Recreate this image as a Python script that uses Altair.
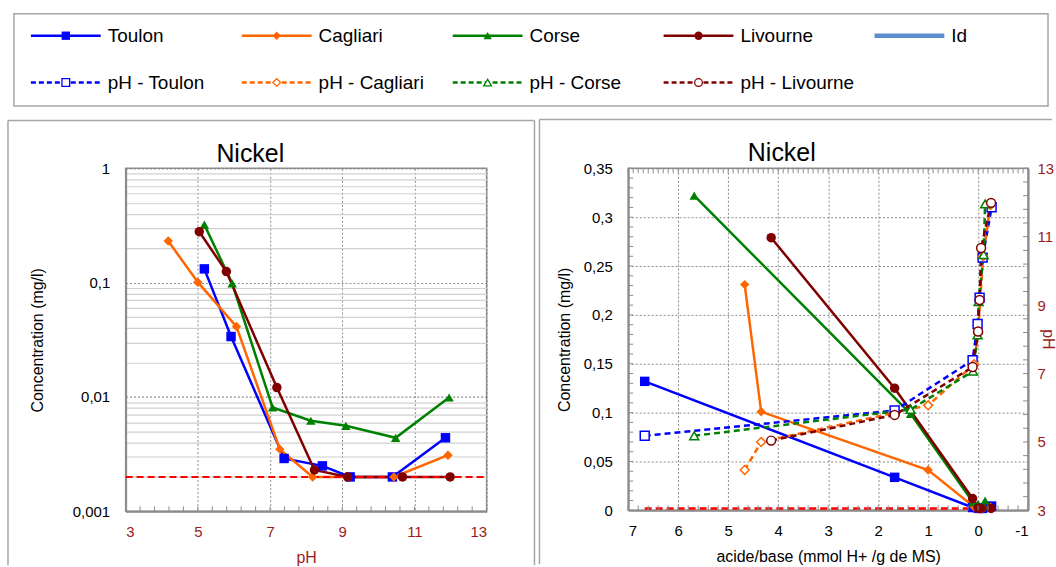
import altair as alt
import pandas as pd
import numpy as np

FONT = "Liberation Sans"
DARKRED = "#9b1c1c"
GRID = "#8c8c8c"
BOX = "#a6a6a6"

# ---------------- data ----------------
sites = ["Toulon", "Cagliari", "Corse", "Livourne"]
site_colors = ["#0000ff", "#ff6600", "#008000", "#800000"]
site_shapes = ["square", "diamond", "triangle-up", "circle"]

ph_toulon = [5.18, 5.92, 7.39, 8.45, 9.22, 10.39, 11.86]
ph_cagliari = [4.18, 5.00, 6.07, 7.27, 8.18, 10.43, 11.93]
ph_corse = [5.18, 5.95, 7.07, 8.13, 9.10, 10.48, 11.96]
ph_livourne = [5.04, 5.79, 7.19, 8.23, 9.15, 10.67, 11.99]

conc_toulon = [0.132, 0.0338, 0.0029, 0.0025, 0.0020, 0.0020, 0.0044]
conc_cagliari = [0.231, 0.101, 0.0413, 0.0035, 0.0020, 0.0020, 0.0031]
conc_corse = [0.322, 0.0987, 0.0081, 0.0062, 0.0056, 0.0044, 0.0099]
conc_livourne = [0.279, 0.125, 0.0121, 0.0023, 0.0020, 0.0020, 0.0020]

ab_toulon = [6.67, 1.67, 0.11, 0.01, -0.03, -0.09, -0.27]
ab_cagliari = [4.67, 4.34, 1.00, 0.08, 0.00, -0.10, -0.25]
ab_corse = [5.68, 1.35, 0.10, 0.01, -0.01, -0.11, -0.14]
ab_livourne = [4.14, 1.67, 0.11, 0.00, -0.03, -0.06, -0.26]

limit_value = 0.002
limit_ph = [3, 13]
limit_ab = [6.67, -0.27]

chart_title = "Nickel"
legend_row1 = ["Toulon", "Cagliari", "Corse", "Livourne", "Id"]
legend_row2 = ["pH - Toulon", "pH - Cagliari", "pH - Corse", "pH - Livourne"]
id_color = "#5b8fcc"

left_x_ticks = [3, 5, 7, 9, 11, 13]
log_ticks = [round(m * 10.0 ** e, 6) for e in (-3, -2, -1) for m in range(1, 10)] + [1]
right_x_ticks = [-1, 0, 1, 2, 3, 4, 5, 6, 7]
right_y_ticks = [0, 0.05, 0.1, 0.15, 0.2, 0.25, 0.3, 0.35]
ph_axis_ticks = [3, 5, 7, 9, 11, 13]

# ---------------- tables ----------------
rows = []
for s, ph, cc, ab in zip(sites, [ph_toulon, ph_cagliari, ph_corse, ph_livourne],
                         [conc_toulon, conc_cagliari, conc_corse, conc_livourne],
                         [ab_toulon, ab_cagliari, ab_corse, ab_livourne]):
    for i, (p, c, a) in enumerate(zip(ph, cc, ab)):
        rows.append(dict(site=s, ph=p, conc=c, ab=a, order=i))
df = pd.DataFrame(rows)

lim_left = pd.DataFrame({"ph": limit_ph, "conc": [limit_value] * 2})
lim_right = pd.DataFrame({"ab": limit_ab, "conc": [limit_value] * 2})

color = alt.Color("site:N", scale=alt.Scale(domain=sites, range=site_colors), legend=None)
shape = alt.Shape("site:N", scale=alt.Scale(domain=sites, range=site_shapes), legend=None)

W1, H1 = 362, 344
W2, H2 = 401, 343
one = pd.DataFrame({"a": [0]})
ttl = pd.DataFrame({"t": [chart_title]})

axis_common = dict(labelFont=FONT, titleFont=FONT, labelFontSize=15, titleFontSize=16,
                   titleFontWeight="normal", domainColor=GRID, domainWidth=2, ticks=False)

# ---------------- left panel ----------------
decade = "abs(log(datum.value)/LN10 - round(log(datum.value)/LN10)) < 0.001"
xl = alt.X("ph:Q", scale=alt.Scale(domain=[3, 13], nice=False, zero=False),
           axis=alt.Axis(values=left_x_ticks, title="pH", labelColor=DARKRED, titleColor=DARKRED,
                         grid=True, gridColor=GRID, gridDash=[2, 2], labelPadding=13, titlePadding=10,
                         labelExpr="'' + datum.value", **axis_common))
yl = alt.Y("conc:Q", scale=alt.Scale(type="log", domain=[0.001, 1], nice=False),
           axis=alt.Axis(values=log_ticks, title="Concentration (mg/l)", labelColor="black",
                         labelExpr=f"({decade}) ? replace('' + datum.value, '.', ',') : ''",
                         grid=True,
                         gridColor={"condition": {"test": decade, "value": "#8c8c8c"}, "value": "#d0d0d0"},
                         gridDash={"condition": {"test": decade, "value": [2, 2]}, "value": []},
                         gridWidth=1.2, labelPadding=16, titlePadding=27, **axis_common))

left_lines = alt.Chart(df).mark_line(strokeWidth=2.5).encode(x=xl, y=yl, color=color, detail="site:N", order="order:Q")
left_limit = alt.Chart(lim_left).mark_line(color="#ff0000", strokeWidth=2, strokeDash=[7, 4]).encode(x="ph:Q", y="conc:Q")
left_pts = alt.Chart(df).mark_point(filled=True, opacity=1, size=90).encode(x="ph:Q", y="conc:Q", color=color, shape=shape)
lx_minor = pd.DataFrame({"ph": np.round(np.arange(3, 13.001, 0.4), 2)})
left_ticks = alt.Chart(lx_minor).mark_rule(color=GRID, strokeWidth=1).encode(x="ph:Q", y=alt.value(H1), y2=alt.value(H1 - 5))

left_data = alt.layer(left_lines, left_limit, left_pts, left_ticks)

# decorations (frames, title)
anchor = alt.Chart(one).mark_rect(color="white").encode(
    x=alt.value(-125), x2=alt.value(-124), y=alt.value(-167), y2=alt.value(-166))
legend_box = alt.Chart(one).mark_rect(fillOpacity=0, stroke=BOX, strokeWidth=1.5).encode(
    x=alt.value(-112), x2=alt.value(925), y=alt.value(-155), y2=alt.value(-62.5))
lb_style = dict(color=BOX, strokeWidth=1.5)
left_box_l = alt.Chart(one).mark_rule(**lb_style).encode(x=alt.value(-118), y=alt.value(-48), y2=alt.value(398))
left_box_r = alt.Chart(one).mark_rule(**lb_style).encode(x=alt.value(410), y=alt.value(-48), y2=alt.value(398))
left_box_t = alt.Chart(one).mark_rule(**lb_style).encode(x=alt.value(-118), x2=alt.value(410), y=alt.value(-48))
left_title = alt.Chart(ttl).mark_text(fontSize=25, font=FONT, align="center", baseline="alphabetic",
                                      color="black").encode(x=alt.value(125), y=alt.value(-6), text="t:N")

# legend (drawn through its own scales)
step = 211.5
leg = []
for i, lab in enumerate(legend_row1):
    leg.append(dict(label=lab, col=i, row=0,
                    color=site_colors[i] if i < 4 else id_color,
                    shape=site_shapes[i] if i < 4 else "",
                    sw=2.5 if i < 4 else 4.5))
for i, lab in enumerate(legend_row2):
    leg.append(dict(label=lab, col=i, row=1, color=site_colors[i], shape=site_shapes[i], sw=2.5))
leg = pd.DataFrame(leg)
leg["xe"] = leg["col"] + 70 / step
leg["xm"] = leg["col"] + 35 / step

lxs = alt.Scale(domain=[0, 1], range=[-95, -95 + step])
lys = alt.Scale(domain=[0, 1], range=[-133, -86])
lX = lambda f: alt.X(f"{f}:Q", scale=lxs, axis=None)
lY = alt.Y("row:Q", scale=lys, axis=None)

leg_solid = alt.Chart(leg).transform_filter("datum.row == 0").mark_rule().encode(
    x=lX("col"), x2="xe:Q", y=lY, color=alt.Color("color:N", scale=None),
    strokeWidth=alt.StrokeWidth("sw:Q", scale=None))
leg_dash = alt.Chart(leg).transform_filter("datum.row == 1").mark_rule(strokeDash=[5, 3], strokeWidth=2.5).encode(
    x=lX("col"), x2="xe:Q", y=lY, color=alt.Color("color:N", scale=None))
leg_fill = alt.Chart(leg).transform_filter("datum.row == 0 && datum.shape != ''").mark_point(
    filled=True, opacity=1, size=70).encode(
    x=lX("xm"), y=lY, color=alt.Color("color:N", scale=None), shape=alt.Shape("shape:N", scale=None))
leg_open = alt.Chart(leg).transform_filter("datum.row == 1").mark_point(
    filled=False, fill="white", fillOpacity=1, opacity=1, size=60, strokeWidth=1.3).encode(
    x=lX("xm"), y=lY, color=alt.Color("color:N", scale=None), shape=alt.Shape("shape:N", scale=None))
leg_text = alt.Chart(leg).mark_text(align="left", baseline="middle", dx=77, fontSize=19, font=FONT,
                                    color="black").encode(x=lX("col"), y=lY, text="label:N")
legend_layer = alt.layer(leg_solid, leg_dash, leg_fill, leg_open, leg_text)

left = alt.layer(anchor, legend_box, left_box_l, left_box_r, left_box_t, left_title,
                 left_data, legend_layer).resolve_scale(
    x="independent", y="independent").properties(width=W1, height=H1)

# ---------------- right panel ----------------
xr = alt.X("ab:Q", scale=alt.Scale(domain=[-1, 7], reverse=True, nice=False, zero=False),
           axis=alt.Axis(values=right_x_ticks, title="acide/base (mmol H+ /g de MS)", labelColor="black",
                         titleColor="black", grid=True, gridColor=GRID, gridDash=[2, 2],
                         labelExpr="'' + datum.value", labelPadding=13, titlePadding=10, **axis_common))
yr = alt.Y("conc:Q", scale=alt.Scale(domain=[0, 0.35], nice=False),
           axis=alt.Axis(values=right_y_ticks, title="Concentration (mg/l)", labelColor="black",
                         titleColor="black", grid=True, gridColor=GRID, gridDash=[2, 2],
                         labelExpr="replace('' + datum.value, '.', ',')", labelPadding=16, titlePadding=11,
                         **axis_common))
yph = alt.Y("ph:Q", scale=alt.Scale(domain=[3, 13], nice=False, zero=False),
            axis=alt.Axis(orient="right", values=ph_axis_ticks, title="pH", labelColor=DARKRED,
                          titleColor=DARKRED, grid=False, labelExpr="'' + datum.value",
                          labelPadding=9, titleX=19, titleY=171, titleAngle=90, titleAlign="center",
                          titleBaseline="middle", **axis_common))

r_lines = alt.Chart(df).mark_line(strokeWidth=2.5).encode(x=xr, y=yr, color=color, detail="site:N", order="order:Q")
r_limit = alt.Chart(lim_right).mark_line(color="#ff0000", strokeWidth=2.5, strokeDash=[7, 4]).encode(x="ab:Q", y="conc:Q")
r_pts = alt.Chart(df).mark_point(filled=True, opacity=1, size=90).encode(x="ab:Q", y="conc:Q", color=color, shape=shape)
rb = pd.DataFrame({"ab": np.round(np.arange(-1, 7.001, 0.2), 2)})
rt = pd.DataFrame({"ab": np.round(np.arange(-1, 7.001, 0.1), 2)})
rl = pd.DataFrame({"conc": np.round(np.arange(0, 0.3501, 0.01), 3)})
r_tick_b = alt.Chart(rb).mark_rule(color=GRID).encode(x="ab:Q", y=alt.value(H2), y2=alt.value(H2 - 5))
r_tick_t = alt.Chart(rt).mark_rule(color=GRID).encode(x="ab:Q", y=alt.value(0), y2=alt.value(5))
r_tick_l = alt.Chart(rl).mark_rule(color=GRID).encode(y="conc:Q", x=alt.value(0), x2=alt.value(5))
conc_layer = alt.layer(r_lines, r_limit, r_pts, r_tick_b, r_tick_t, r_tick_l)

ph_lines = alt.Chart(df).mark_line(strokeWidth=2.5, strokeDash=[6, 4]).encode(
    x=xr, y=yph, color=color, detail="site:N", order="order:Q")
ph_pts = alt.Chart(df).mark_point(filled=False, fill="white", fillOpacity=1, opacity=1, size=80,
                                  strokeWidth=1.5).encode(x="ab:Q", y="ph:Q", color=color, shape=shape)
rr = pd.DataFrame({"ph": np.round(np.arange(3, 13.001, 0.4), 2)})
r_tick_r = alt.Chart(rr).mark_rule(color=GRID).encode(y="ph:Q", x=alt.value(W2), x2=alt.value(W2 - 5))
ph_layer = alt.layer(ph_lines, ph_pts, r_tick_r)

right_box_l = alt.Chart(one).mark_rule(**lb_style).encode(x=alt.value(-89), y=alt.value(-49), y2=alt.value(397))
right_box_t = alt.Chart(one).mark_rule(**lb_style).encode(x=alt.value(-89), x2=alt.value(425), y=alt.value(-49))
right_title = alt.Chart(ttl).mark_text(fontSize=25, font=FONT, align="center", baseline="alphabetic",
                                       color="black").encode(x=alt.value(154), y=alt.value(-7), text="t:N")

right = alt.layer(right_box_l, right_box_t, right_title, conc_layer, ph_layer).resolve_scale(
    y="independent").properties(width=W2, height=H2)

chart = alt.hconcat(left, right, spacing=142, bounds="flush").properties(
    padding=0
).configure(font=FONT).configure_view(stroke=GRID, strokeWidth=1.5)

chart.save("out.html", embed_options={"renderer": "svg", "actions": False})
